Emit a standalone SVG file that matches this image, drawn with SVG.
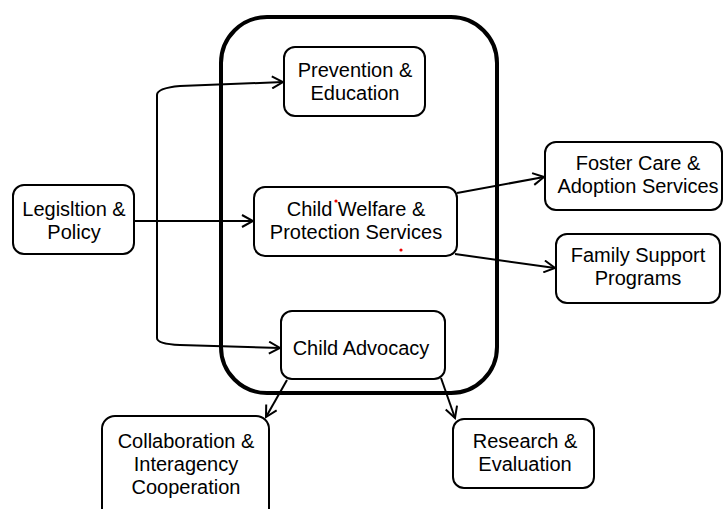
<svg xmlns="http://www.w3.org/2000/svg" width="723" height="509" viewBox="0 0 723 509">
<defs>
<marker id="arr" markerUnits="userSpaceOnUse" markerWidth="14" markerHeight="14" viewBox="0 0 14 14" refX="12" refY="7" orient="auto">
<path d="M1,1 L12,7 L1,13" fill="none" stroke="#000" stroke-width="2"/>
</marker>
<style>
.box{fill:#fff;stroke:#000;stroke-width:2}
.t{font-family:"Liberation Sans",Arial,sans-serif;font-size:20px;fill:#000;text-anchor:middle}
.c{fill:none;stroke:#000;stroke-width:2}
</style>
</defs>
<rect width="723" height="509" fill="#fff"/>
<g id="container">
<rect x="221" y="17" width="276" height="376" rx="46" ry="46" fill="none" stroke="#000" stroke-width="4"/>
</g>
<g id="connectors">
<path class="c" d="M134 221 L253 221" marker-end="url(#arr)"/>
<path class="c" d="M157 338 L157 95 Q157 88 180 86 L283 82" marker-end="url(#arr)"/>
<path class="c" d="M157 221 L157 338 Q157 344 180 345 L280 348" marker-end="url(#arr)"/>
<path class="c" d="M457 193 L544 177" marker-end="url(#arr)"/>
<path class="c" d="M455 254 L555 268" marker-end="url(#arr)"/>
<path class="c" d="M287 380 L266 417" marker-end="url(#arr)"/>
<path class="c" d="M441 378 L455 418" marker-end="url(#arr)"/>
</g>
<g id="prevention">
<rect class="box" x="284" y="47" width="141" height="69" rx="11"/>
<text class="t" x="355" y="77">Prevention &amp;</text>
<text class="t" x="355" y="100">Education</text>
</g>
<g id="welfare">
<rect class="box" x="254" y="187" width="203" height="69" rx="11"/>
<text class="t" x="356" y="216">Child Welfare &amp;</text>
<text class="t" x="356" y="239">Protection Services</text>
<circle cx="336" cy="201" r="1.6" fill="#e00"/>
<circle cx="401" cy="250" r="1.6" fill="#e00"/>
</g>
<g id="legislation">
<rect class="box" x="13" y="185" width="121" height="69" rx="11"/>
<text class="t" x="74" y="216">Legisltion &amp;</text>
<text class="t" x="74" y="239">Policy</text>
</g>
<g id="foster">
<rect class="box" x="545" y="142" width="177" height="68" rx="11"/>
<text class="t" x="638" y="170">Foster Care &amp;</text>
<text class="t" x="638" y="193">Adoption Services</text>
</g>
<g id="family">
<rect class="box" x="556" y="234" width="164" height="69" rx="11"/>
<text class="t" x="638" y="262">Family Support</text>
<text class="t" x="638" y="285">Programs</text>
</g>
<g id="advocacy">
<rect class="box" x="281" y="311" width="164" height="68" rx="11"/>
<text class="t" x="361" y="355">Child Advocacy</text>
</g>
<g id="collaboration">
<rect class="box" x="102" y="416" width="167" height="110" rx="13"/>
<text class="t" x="186" y="448">Collaboration &amp;</text>
<text class="t" x="186" y="471">Interagency</text>
<text class="t" x="186" y="494">Cooperation</text>
</g>
<g id="research">
<rect class="box" x="453" y="419" width="141" height="69" rx="11"/>
<text class="t" x="525" y="448">Research &amp;</text>
<text class="t" x="525" y="471">Evaluation</text>
</g>
</svg>
